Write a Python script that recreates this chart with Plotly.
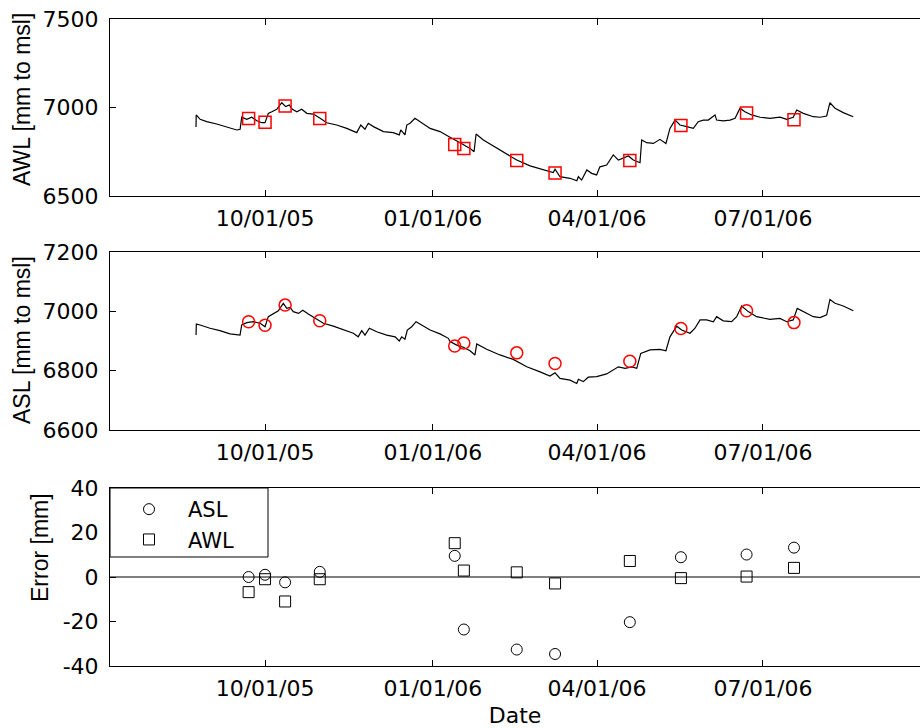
import plotly.graph_objects as go

# ---------------- data ----------------
awl_dates = [
    "2005-08-24 04:00", "2005-08-24 06:00", "2005-08-26 10:00", "2005-08-30 00:00", "2005-09-04 12:00",
    "2005-09-10 00:00", "2005-09-15 12:00", "2005-09-17 08:00", "2005-09-18 05:00", "2005-09-21 00:00",
    "2005-09-23 17:00", "2005-09-26 12:00", "2005-09-29 05:00", "2005-10-01 00:00", "2005-10-02 19:00",
    "2005-10-04 17:00", "2005-10-07 10:00", "2005-10-10 04:00", "2005-10-12 08:00", "2005-10-14 07:00",
    "2005-10-16 00:00", "2005-10-18 10:00", "2005-10-21 02:00", "2005-10-23 22:00", "2005-10-27 12:00",
    "2005-10-31 05:00", "2005-11-03 19:00", "2005-11-09 07:00", "2005-11-14 19:00", "2005-11-20 07:00",
    "2005-11-22 12:00", "2005-11-24 19:00", "2005-11-26 14:00", "2005-11-29 10:00", "2005-12-04 22:00",
    "2005-12-10 07:00", "2005-12-13 14:00", "2005-12-14 10:00", "2005-12-16 17:00", "2005-12-17 17:00",
    "2005-12-19 12:00", "2005-12-22 05:00", "2005-12-25 00:00", "2005-12-30 12:00", "2006-01-04 22:00",
    "2006-01-09 12:00", "2006-01-10 10:00", "2006-01-15 22:00", "2006-01-21 10:00", "2006-01-23 14:00",
    "2006-01-24 17:00", "2006-01-28 17:00", "2006-02-03 05:00", "2006-02-08 14:00", "2006-02-16 00:00",
    "2006-02-23 07:00", "2006-03-02 14:00", "2006-03-08 00:00", "2006-03-09 00:00", "2006-03-11 17:00",
    "2006-03-17 05:00", "2006-03-20 22:00", "2006-03-21 19:00", "2006-03-23 14:00", "2006-03-26 10:00",
    "2006-03-29 02:00", "2006-03-31 19:00", "2006-04-02 14:00", "2006-04-06 07:00", "2006-04-09 22:00",
    "2006-04-12 17:00", "2006-04-15 10:00", "2006-04-18 05:00", "2006-04-20 22:00", "2006-04-24 14:00",
    "2006-04-25 12:00", "2006-04-28 05:00", "2006-05-01 22:00", "2006-05-05 12:00", "2006-05-08 19:00",
    "2006-05-11 00:00", "2006-05-13 19:00", "2006-05-16 12:00", "2006-05-20 05:00", "2006-05-23 19:00",
    "2006-05-26 12:00", "2006-05-29 07:00", "2006-06-01 00:00", "2006-06-04 17:00", "2006-06-05 14:00",
    "2006-06-09 05:00", "2006-06-12 22:00", "2006-06-15 17:00", "2006-06-18 10:00", "2006-06-21 02:00",
    "2006-06-24 19:00", "2006-06-29 10:00", "2006-07-04 19:00", "2006-07-10 07:00", "2006-07-14 00:00",
    "2006-07-17 14:00", "2006-07-19 12:00", "2006-07-23 02:00", "2006-07-28 14:00", "2006-08-01 07:00",
    "2006-08-04 22:00", "2006-08-06 17:00", "2006-08-09 12:00", "2006-08-14 00:00", "2006-08-19 12:00",
]
awl_line = [
    6890, 6958, 6933, 6920, 6907,
    6892, 6873, 6877, 6945, 6933,
    6945, 6925, 6914, 6914, 6967,
    6976, 6990, 7027, 7005, 7014,
    6990, 6976, 6990, 6967, 6963,
    6939, 6914, 6901, 6882, 6858,
    6901, 6877, 6911, 6892, 6864,
    6858, 6845, 6873, 6845, 6901,
    6911, 6939, 6920, 6882, 6864,
    6835, 6832, 6801, 6769, 6750,
    6850, 6816, 6782, 6750, 6703,
    6670, 6647, 6632, 6651, 6609,
    6600, 6586, 6609, 6590, 6647,
    6628, 6619, 6665, 6675, 6732,
    6703, 6713, 6726, 6703, 6688,
    6816, 6801, 6797, 6820, 6797,
    6882, 6929, 6901, 6892, 6882,
    6920, 6929, 6929, 6958, 6929,
    6925, 6929, 6939, 6996, 6976,
    6958, 6945, 6939, 6945, 6933,
    6945, 6986, 6967, 6948, 6945,
    6952, 7027, 6996, 6971, 6948,
]

asl_dates = [
    "2005-08-24 04:00", "2005-08-24 08:00", "2005-08-26 10:00", "2005-08-31 20:00", "2005-09-06 07:00",
    "2005-09-11 19:00", "2005-09-17 07:00", "2005-09-18 05:00", "2005-09-21 00:00", "2005-09-24 14:00",
    "2005-09-28 07:00", "2005-10-01 00:00", "2005-10-02 19:00", "2005-10-05 13:00", "2005-10-08 07:00",
    "2005-10-11 00:00", "2005-10-12 22:00", "2005-10-14 17:00", "2005-10-16 12:00", "2005-10-19 07:00",
    "2005-10-21 17:00", "2005-10-24 17:00", "2005-10-29 07:00", "2005-11-02 00:00", "2005-11-07 10:00",
    "2005-11-12 22:00", "2005-11-18 10:00", "2005-11-21 02:00", "2005-11-23 00:00", "2005-11-24 19:00",
    "2005-11-27 05:00", "2005-12-01 05:00", "2005-12-06 17:00", "2005-12-11 07:00", "2005-12-13 14:00",
    "2005-12-14 22:00", "2005-12-16 17:00", "2005-12-18 00:00", "2005-12-20 10:00", "2005-12-22 19:00",
    "2005-12-25 22:00", "2005-12-30 12:00", "2006-01-04 22:00", "2006-01-09 12:00", "2006-01-10 10:00",
    "2006-01-14 02:00", "2006-01-17 17:00", "2006-01-21 10:00", "2006-01-24 02:00", "2006-01-25 02:00",
    "2006-01-30 12:00", "2006-02-06 19:00", "2006-02-14 02:00", "2006-02-21 12:00", "2006-02-28 19:00",
    "2006-03-06 05:00", "2006-03-09 00:00", "2006-03-11 17:00", "2006-03-17 05:00", "2006-03-20 22:00",
    "2006-03-21 19:00", "2006-03-24 12:00", "2006-03-27 05:00", "2006-03-31 19:00", "2006-04-06 07:00",
    "2006-04-09 22:00", "2006-04-12 17:00", "2006-04-16 10:00", "2006-04-20 00:00", "2006-04-22 19:00",
    "2006-04-25 00:00", "2006-04-30 02:00", "2006-05-05 12:00", "2006-05-08 19:00", "2006-05-11 00:00",
    "2006-05-14 17:00", "2006-05-17 10:00", "2006-05-22 00:00", "2006-05-24 17:00", "2006-05-27 12:00",
    "2006-05-31 02:00", "2006-06-03 19:00", "2006-06-05 14:00", "2006-06-09 05:00", "2006-06-13 19:00",
    "2006-06-16 14:00", "2006-06-19 07:00", "2006-06-22 22:00", "2006-06-27 12:00", "2006-07-04 19:00",
    "2006-07-10 07:00", "2006-07-14 00:00", "2006-07-17 14:00", "2006-07-19 19:00", "2006-07-23 02:00",
    "2006-07-28 14:00", "2006-08-01 07:00", "2006-08-04 22:00", "2006-08-06 17:00", "2006-08-09 12:00",
    "2006-08-14 00:00", "2006-08-19 12:00",
]
asl_line = [
    6920, 6957, 6954, 6943, 6935,
    6924, 6920, 6954, 6962, 6965,
    6960, 6948, 6982, 6993, 7002,
    7027, 7010, 7013, 6999, 6993,
    7004, 6991, 6973, 6960, 6950,
    6939, 6926, 6914, 6935, 6920,
    6943, 6931, 6920, 6914, 6900,
    6914, 6906, 6937, 6948, 6965,
    6954, 6937, 6924, 6909, 6898,
    6886, 6879, 6867, 6853, 6890,
    6872, 6853, 6838, 6813, 6796,
    6782, 6793, 6774, 6768, 6757,
    6771, 6763, 6778, 6780, 6789,
    6802, 6813, 6808, 6813, 6808,
    6858, 6870, 6872, 6867, 6914,
    6950, 6937, 6926, 6943, 6971,
    6971, 6965, 6982, 6968, 6965,
    6982, 7018, 6999, 6982, 6973,
    6976, 6965, 6971, 7010, 6999,
    6982, 6979, 6988, 7040, 7027,
    7018, 7002,
]

obs_dates = ["2005-09-22", "2005-10-01", "2005-10-12", "2005-10-31", "2006-01-13", "2006-01-18",
             "2006-02-16", "2006-03-09", "2006-04-19", "2006-05-17", "2006-06-22", "2006-07-18"]
awl_obs = [6938, 6916, 7008, 6938, 6791, 6769, 6700, 6630, 6700, 6899, 6969, 6931]
asl_obs = [6965, 6953, 7021, 6968, 6883, 6893, 6860, 6824, 6832, 6942, 7002, 6962]
err_asl = [0, 1, -2.4, 2.3, 9.5, -23.6, -32.6, -34.6, -20.3, 8.9, 10.1, 13.2]
err_awl = [-6.8, -1, -11, -1, 15.2, 2.9, 2.1, -2.9, 7.2, -0.5, 0.2, 4.1]

tick_dates = ["2005-10-01", "2006-01-01", "2006-04-01", "2006-07-01"]
tick_text = ["10/01/05", "01/01/06", "04/01/06", "07/01/06"]
x_range = ["2005-07-08", "2006-09-25 02:00"]

awl_ticks = [6500, 7000, 7500]
asl_ticks = [6600, 6800, 7000, 7200]
err_ticks = [-40, -20, 0, 20, 40]

W, H = 920, 728
L = 110
TICKFONT = dict(family="DejaVu Sans", size=22, color="black")
TITLEFONT = dict(family="Liberation Sans", size=23, color="black")

fig = go.Figure()

# panel 1
fig.add_trace(go.Scatter(x=awl_dates, y=awl_line, mode="lines", line=dict(color="black", width=1.2),
                         xaxis="x", yaxis="y", showlegend=False, hoverinfo="skip"))
fig.add_trace(go.Scatter(x=obs_dates, y=awl_obs, mode="markers",
                         marker=dict(symbol="square-open", size=12, color="red", line=dict(width=1.5, color="red")),
                         xaxis="x", yaxis="y", showlegend=False))
# panel 2
fig.add_trace(go.Scatter(x=asl_dates, y=asl_line, mode="lines", line=dict(color="black", width=1.2),
                         xaxis="x2", yaxis="y2", showlegend=False, hoverinfo="skip"))
fig.add_trace(go.Scatter(x=obs_dates, y=asl_obs, mode="markers",
                         marker=dict(symbol="circle-open", size=12, color="red", line=dict(width=1.5, color="red")),
                         xaxis="x2", yaxis="y2", showlegend=False))
# panel 3
fig.add_trace(go.Scatter(x=obs_dates, y=err_asl, mode="markers", name="ASL",
                         marker=dict(symbol="circle-open", size=11, color="black", line=dict(width=1, color="black")),
                         xaxis="x3", yaxis="y3"))
fig.add_trace(go.Scatter(x=obs_dates, y=err_awl, mode="markers", name="AWL",
                         marker=dict(symbol="square-open", size=11, color="black", line=dict(width=1, color="black")),
                         xaxis="x3", yaxis="y3"))

def ydom(top_px, bot_px):
    return [1 - bot_px / H, 1 - top_px / H]

def px_x(x):
    return (x - L) / (W - L)

def px_y(y):
    return 1 - y / H

panels = [
    ("", ydom(19, 196), [6500, 7500], awl_ticks),
    ("2", ydom(252, 430), [6600, 7200], asl_ticks),
    ("3", ydom(488, 666), [-40, 40], err_ticks),
]

layout = dict(
    width=W, height=H,
    margin=dict(l=L, r=0, t=0, b=0, autoexpand=False),
    paper_bgcolor="white", plot_bgcolor="white",
    showlegend=True,
    legend=dict(x=0, y=px_y(489), xanchor="left", yanchor="top",
                bgcolor="rgba(0,0,0,0)", borderwidth=0,
                font=dict(family="DejaVu Sans", size=21, color="black"),
                itemwidth=68, tracegroupgap=0),
)

for suf, dom, yr, yt in panels:
    layout["xaxis" + suf] = dict(
        domain=[0, 1], range=x_range, anchor="y" + suf, type="date",
        tickvals=tick_dates, ticktext=tick_text, tickfont=TICKFONT,
        ticks="inside", ticklen=6, tickcolor="black", tickwidth=1,
        showline=True, linecolor="black", linewidth=1, mirror="allticks",
        showgrid=False, zeroline=False, automargin=False, ticklabelstandoff=3,
    )
    layout["yaxis" + suf] = dict(
        domain=dom, range=yr, anchor="x" + suf,
        tickvals=yt, ticktext=[str(v) for v in yt], tickfont=TICKFONT,
        ticks="inside", ticklen=6, tickcolor="black", tickwidth=1,
        showline=True, linecolor="black", linewidth=1, mirror=False,
        showgrid=False, zeroline=False, automargin=False, ticklabelstandoff=6,
    )

layout["xaxis3"]["title"] = dict(text="Date", font=dict(family="DejaVu Sans", size=22, color="black"), standoff=8)

fig.update_layout(**layout)

# zero reference line in error panel
fig.add_shape(type="line", xref="x3 domain", yref="y3", x0=0, x1=1, y0=0, y1=0,
              line=dict(color="black", width=1))

# legend frame
fig.add_shape(type="rect", xref="paper", yref="paper",
              x0=px_x(L), x1=px_x(268), y0=px_y(557), y1=px_y(488),
              line=dict(color="black", width=1), fillcolor="white", layer="above")

# y axis titles
def title_ann(text, ycenter_px, xcenter_px):
    fig.add_annotation(text=text, xref="paper", yref="paper",
                       x=px_x(xcenter_px), y=px_y(ycenter_px),
                       xanchor="center", yanchor="middle", textangle=-90,
                       showarrow=False, font=TITLEFONT)

title_ann("AWL [mm to msl]", 100, 22)
title_ann("ASL [mm to msl]", 340, 22)
title_ann("Error [mm]", 548, 40)

fig.write_html("out.html")
